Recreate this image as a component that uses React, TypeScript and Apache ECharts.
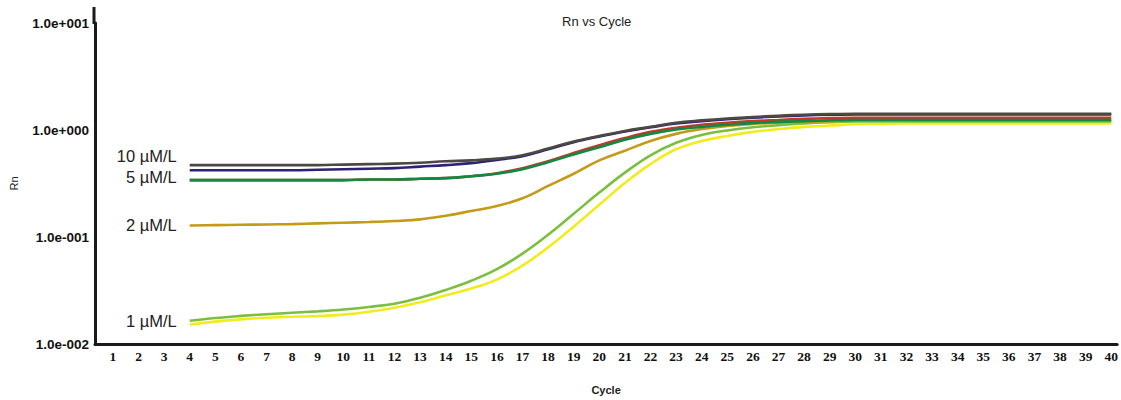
import React, { useEffect, useRef } from "react";
import * as echarts from "echarts";

const cycles = [4,5,6,7,8,9,10,11,12,13,14,15,16,17,18,19,20,21,22,23,24,25,26,27,28,29,30,31,32,33,34,35,36,37,38,39,40];
const tickCycles = [1,2,3,4,5,6,7,8,9,10,11,12,13,14,15,16,17,18,19,20,21,22,23,24,25,26,27,28,29,30,31,32,33,34,35,36,37,38,39,40];

const darkGray10 = [0.47,0.47,0.47,0.47,0.47,0.47,0.475,0.48,0.485,0.495,0.51,0.52,0.54,0.58,0.67,0.78,0.88,0.98,1.07,1.17,1.23,1.28,1.32,1.36,1.39,1.41,1.42,1.42,1.42,1.42,1.42,1.42,1.42,1.42,1.42,1.42,1.42];
const navy10 = [0.42,0.42,0.42,0.42,0.42,0.425,0.43,0.435,0.44,0.455,0.47,0.49,0.525,0.57,0.66,0.77,0.87,0.97,1.06,1.15,1.21,1.26,1.30,1.34,1.37,1.39,1.40,1.40,1.40,1.40,1.40,1.40,1.40,1.40,1.40,1.40,1.40];
const red5 = [0.34,0.34,0.34,0.34,0.34,0.34,0.34,0.345,0.345,0.35,0.355,0.37,0.395,0.44,0.51,0.61,0.72,0.84,0.96,1.05,1.12,1.17,1.21,1.24,1.27,1.29,1.30,1.30,1.30,1.30,1.30,1.30,1.30,1.30,1.30,1.30,1.30];
const green5 = [0.34,0.34,0.34,0.34,0.34,0.34,0.34,0.345,0.345,0.35,0.355,0.37,0.39,0.43,0.50,0.59,0.69,0.81,0.92,1.01,1.07,1.12,1.16,1.19,1.21,1.23,1.24,1.24,1.24,1.24,1.24,1.24,1.24,1.24,1.24,1.24,1.24];
const gold2 = [0.128,0.129,0.130,0.131,0.132,0.134,0.136,0.138,0.141,0.146,0.158,0.175,0.195,0.23,0.30,0.39,0.52,0.64,0.79,0.92,1.02,1.09,1.14,1.17,1.19,1.21,1.22,1.22,1.22,1.22,1.22,1.22,1.22,1.22,1.22,1.22,1.22];
const lightGreen1 = [0.0165,0.0175,0.0183,0.019,0.0196,0.0202,0.021,0.0222,0.0238,0.027,0.032,0.039,0.050,0.070,0.105,0.165,0.26,0.40,0.58,0.76,0.90,0.99,1.06,1.11,1.15,1.18,1.20,1.20,1.20,1.20,1.20,1.20,1.20,1.20,1.20,1.20,1.20];
const yellow1 = [0.0152,0.0162,0.0170,0.0176,0.018,0.0182,0.0188,0.020,0.0218,0.0245,0.0285,0.033,0.040,0.054,0.080,0.125,0.20,0.32,0.48,0.66,0.79,0.88,0.96,1.02,1.07,1.10,1.13,1.14,1.15,1.15,1.15,1.15,1.15,1.15,1.15,1.15,1.15];

const seriesDefs = [
  { name: "1 µM/L (b)", values: yellow1, color: "#f2ec1c", label: "" , offsetY: 0 },
  { name: "1 µM/L", values: lightGreen1, color: "#7cbf3f", label: "1 µM/L", offsetY: 0 },
  { name: "2 µM/L", values: gold2, color: "#c49a16", label: "2 µM/L", offsetY: -1 },
  { name: "5 µM/L (b)", values: red5, color: "#c0392b", label: "", offsetY: 0 },
  { name: "5 µM/L", values: green5, color: "#0e8a42", label: "5 µM/L", offsetY: -3 },
  { name: "10 µM/L (b)", values: navy10, color: "#2d2178", label: "", offsetY: 0 },
  { name: "10 µM/L", values: darkGray10, color: "#4d4842", label: "10 µM/L", offsetY: -9 },
];

function fmtExp(v: number): string {
  const e = Math.round(Math.log10(v));
  const s = e >= 0 ? "+" : "-";
  return "1.0e" + s + String(Math.abs(e)).padStart(3, "0");
}

export default function App() {
  const ref = useRef<HTMLDivElement>(null);
  useEffect(() => {
    if (!ref.current) return;
    const chart = echarts.init(ref.current, undefined, { renderer: "svg" });
    const series = seriesDefs.map((d) => ({
      type: "line",
      name: d.name,
      smooth: 0.4,
      showSymbol: true,
      symbol: "circle",
      symbolSize: 0,
      lineStyle: { color: d.color, width: 2.6 },
      itemStyle: { color: d.color },
      emphasis: { disabled: true },
      data: cycles.map((c, i) => {
        if (i === 0 && d.label) {
          return {
            value: [c, d.values[i]],
            label: {
              show: true,
              position: "left",
              distance: 13,
              offset: [0, d.offsetY],
              formatter: d.label,
              fontSize: 16.5,
              color: "#222",
              fontFamily: "Liberation Sans, Arial, sans-serif",
            },
          };
        }
        return [c, d.values[i]];
      }),
    }));
    chart.setOption({
      animation: false,
      backgroundColor: "#fff",
      title: {
        text: "Rn vs Cycle",
        left: 557,
        top: 10,
        textStyle: { fontSize: 13, fontWeight: "normal", color: "#222", fontFamily: "Liberation Sans, Arial, sans-serif" },
      },
      grid: { left: 94, right: 0, top: 23, bottom: 46 },
      xAxis: {
        type: "value",
        min: 0.3,
        max: 40.23,
        name: "Cycle",
        nameLocation: "middle",
        nameGap: 40,
        nameTextStyle: { fontSize: 11, fontWeight: "bold", color: "#222", fontFamily: "Liberation Sans, Arial, sans-serif" },
        axisLine: { show: true, lineStyle: { color: "#1a1a1a", width: 3 } },
        axisTick: { show: false },
        splitLine: { show: false },
        axisLabel: {
          customValues: tickCycles,
          margin: 5,
          fontSize: 13.5,
          fontWeight: "bold",
          color: "#111",
          fontFamily: "Liberation Serif, Times New Roman, serif",
        },
      },
      yAxis: {
        type: "log",
        logBase: 10,
        min: 0.01,
        max: 10,
        name: "Rn",
        nameLocation: "middle",
        nameGap: 76,
        nameRotate: 90,
        nameTextStyle: { fontSize: 11, color: "#222", fontFamily: "Liberation Sans, Arial, sans-serif" },
        axisLine: { show: true, lineStyle: { color: "#1a1a1a", width: 3 } },
        axisTick: { show: false },
        splitLine: { show: false },
        axisLabel: {
          formatter: (v: number) => fmtExp(v),
          margin: 6,
          fontSize: 13.5,
          fontWeight: "bold",
          color: "#111",
          fontFamily: "Liberation Sans, Arial, sans-serif",
        },
      },
      graphic: [
        { type: "line", shape: { x1: 94, y1: 7, x2: 94, y2: 24 }, style: { stroke: "#1a1a1a", lineWidth: 3 } },
      ],
      series,
    });
    return () => chart.dispose();
  }, []);
  return <div ref={ref} style={{ position: "fixed", left: 0, top: 0, width: 1121, height: 400 }} />;
}
